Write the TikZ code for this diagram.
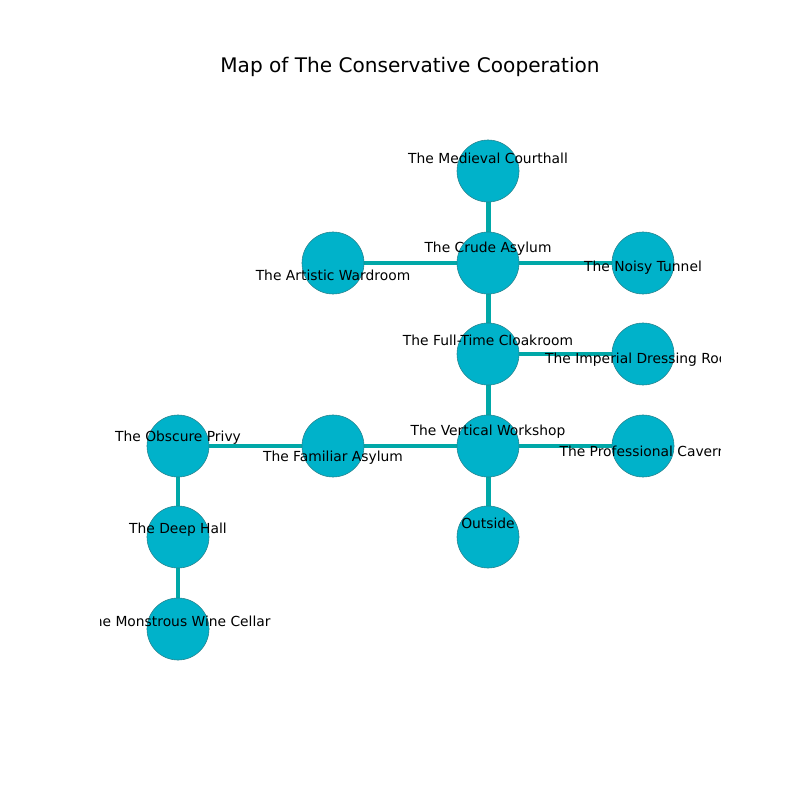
\documentclass[tikz,border=0pt]{standalone}
\usepackage{fontspec}
\setmainfont{DejaVu Sans}
\definecolor{roomfill}{RGB}{0,178,202}
\definecolor{roomedge}{RGB}{40,130,140}
\definecolor{passage}{RGB}{0,168,168}
\begin{document}
\begin{tikzpicture}[x=0.01in,y=-0.01in,
	room/.style={circle,draw=roomedge,line width=0.4pt,fill=roomfill,minimum size=0.62in,inner sep=0},
	passage/.style={draw=passage,line width=3.6pt},
	tag/.style={font=\fontsize{10}{12}\selectfont,inner sep=0,anchor=center}]
\useasboundingbox (0,0) rectangle (800,800);
\node[font=\fontsize{14.5}{17}\selectfont] (title) at (410,67) {Map of The Conservative Cooperation};
% rooms
\coordinate (medieval) at (488,171);
\coordinate (crude) at (488,263);
\coordinate (artistic) at (333,263);
\coordinate (noisy) at (643,263);
\coordinate (cloak) at (488,354);
\coordinate (imperial) at (643,354);
\coordinate (vertical) at (488,446);
\coordinate (professional) at (643,446);
\coordinate (familiar) at (333,446);
\coordinate (obscure) at (178,446);
\coordinate (outside) at (488,537);
\coordinate (deep) at (178,537);
\coordinate (monstrous) at (178,629);
% passages
\foreach \a/\b in {medieval/crude,crude/artistic,crude/noisy,crude/cloak,cloak/imperial,
	cloak/vertical,vertical/professional,vertical/familiar,vertical/outside,
	familiar/obscure,obscure/deep,deep/monstrous}
	\draw[passage] (\a) -- (\b);
\foreach \r in {medieval,crude,artistic,noisy,cloak,imperial,vertical,professional,
	familiar,obscure,outside,deep,monstrous}
	\node[room] (n\r) at (\r) {};
% labels
\begin{scope}
\clip (100,96) rectangle (720,712);
\node[tag,shift={(0,-13)}] (lmedieval) at (medieval) {The Medieval Courthall};
\node[tag,shift={(0,-14)}] (lcrude) at (crude) {The Crude Asylum};
\node[tag,shift={(0,12)}] (lartistic) at (artistic) {The Artistic Wardroom};
\node[tag,shift={(0,5)}] (lnoisy) at (noisy) {The Noisy Tunnel};
\node[tag,shift={(0,-14)}] (lcloak) at (cloak) {The Full-Time Cloakroom};
\node[tag,shift={(0,6)}] (limperial) at (imperial) {The Imperial Dressing Room};
\node[tag,shift={(0,-14)}] (lvertical) at (vertical) {The Vertical Workshop};
\node[tag,shift={(0,5)}] (lprofessional) at (professional) {The Professional Cavern};
\node[tag,shift={(0,12)}] (lfamiliar) at (familiar) {The Familiar Asylum};
\node[tag,shift={(0,-8)}] (lobscure) at (obscure) {The Obscure Privy};
\node[tag,shift={(0,-14)}] (loutside) at (outside) {Outside};
\node[tag,shift={(0,-7)}] (ldeep) at (deep) {The Deep Hall};
\node[tag,shift={(0,-8)}] (lmonstrous) at (monstrous) {The Monstrous Wine Cellar};
\end{scope}
\end{tikzpicture}
\end{document}
